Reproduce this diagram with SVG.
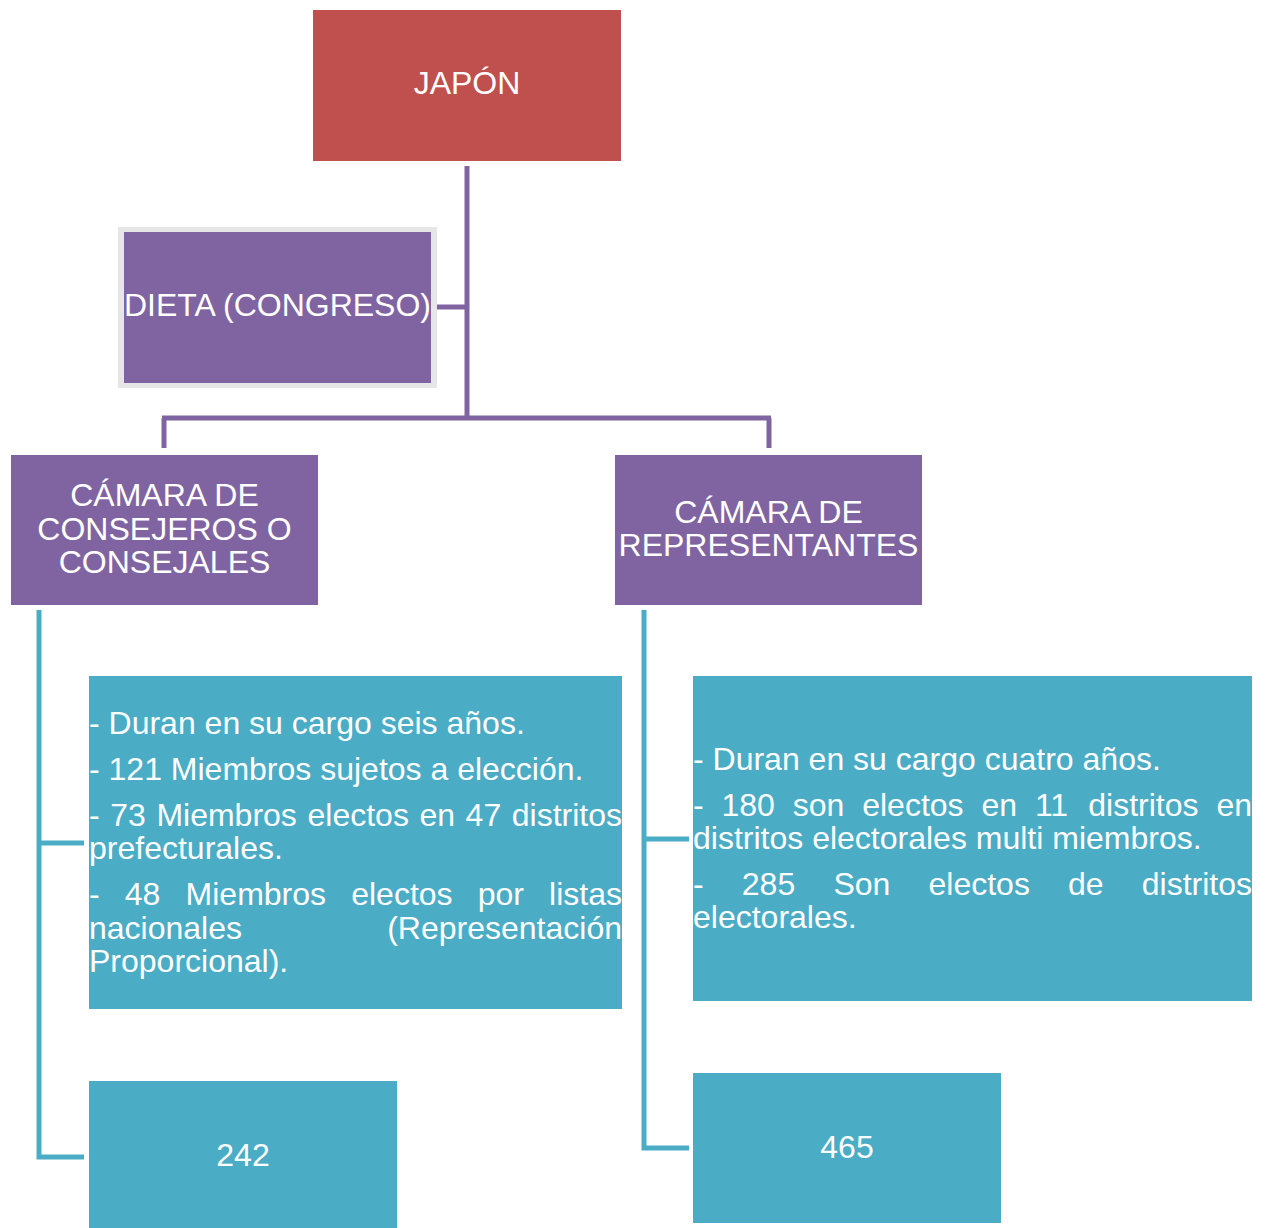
<svg xmlns="http://www.w3.org/2000/svg" width="1265" height="1228" viewBox="0 0 1265 1228">
<style>
text{font-family:"Liberation Sans",Arial,sans-serif;fill:#fff;font-size:32px}
.c{text-anchor:middle}
.e{text-anchor:end}
.red{fill:#C0504D}
.pur{fill:#8064A2}
.teal{fill:#4BACC6}
.pl{stroke:#8064A2;stroke-width:5;fill:none}
.tl{stroke:#4BACC6;stroke-width:5;fill:none}
</style>
<rect width="1265" height="1228" fill="#fff"/>
<g id="connectors">
<path class="pl" d="M467 166V420M162 418H771M164 418V448M769 418V448M437 307H467"/>
<path class="tl" d="M39 610V1157H84M39 843H84"/>
<path class="tl" d="M644 610V1148H689M644 839H689"/>
</g>
<g id="japon">
<rect class="red" x="313" y="10" width="308" height="151"/>
<text class="c" x="467" y="94">JAPÓN</text>
</g>
<g id="dieta">
<rect x="118" y="227" width="319" height="161" fill="#E6E6E6"/>
<rect class="pur" x="124" y="232" width="307" height="151"/>
<text class="c" x="277.5" y="316">DIETA (CONGRESO)</text>
</g>
<g id="consejeros">
<rect class="pur" x="11" y="455" width="307" height="150"/>
<text class="c" x="164.5" y="506">CÁMARA DE</text>
<text class="c" x="164.5" y="540">CONSEJEROS O</text>
<text class="c" x="164.5" y="573">CONSEJALES</text>
</g>
<g id="representantes">
<rect class="pur" x="615" y="455" width="307" height="150"/>
<text class="c" x="768.5" y="523">CÁMARA DE</text>
<text class="c" x="768.5" y="556">REPRESENTANTES</text>
</g>
<g id="consejeros-detalle">
<rect class="teal" x="89" y="676" width="533" height="333"/>
<text x="89" y="734">- Duran en su cargo seis años.</text>
<text x="89" y="780">- 121 Miembros sujetos a elección.</text>
<text y="826"><tspan x="89">-</tspan><tspan x="110.3">73</tspan><tspan x="156.4">Miembros</tspan><tspan x="307.5">electos</tspan><tspan x="419.4">en</tspan><tspan x="465.6">47</tspan><tspan x="622" text-anchor="end">distritos</tspan></text>
<text x="89" y="859">prefecturales.</text>
<text y="905"><tspan x="89">-</tspan><tspan x="124.8">48</tspan><tspan x="185.6">Miembros</tspan><tspan x="351.2">electos</tspan><tspan x="477.7">por</tspan><tspan x="622" text-anchor="end">listas</tspan></text>
<text y="939"><tspan x="89">nacionales</tspan><tspan x="622" text-anchor="end">(Representación</tspan></text>
<text x="89" y="972">Proporcional).</text>
</g>
<g id="representantes-detalle">
<rect class="teal" x="693" y="676" width="559" height="325"/>
<text x="693" y="770">- Duran en su cargo cuatro años.</text>
<text y="816"><tspan x="693">-</tspan><tspan x="721.5">180</tspan><tspan x="792.8">son</tspan><tspan x="862.2">electos</tspan><tspan x="981.4">en</tspan><tspan x="1034.9">11</tspan><tspan x="1088.3">distritos</tspan><tspan x="1252" text-anchor="end">en</tspan></text>
<text x="693" y="849">distritos electorales multi miembros.</text>
<text y="895"><tspan x="693">-</tspan><tspan x="741.8">285</tspan><tspan x="833.4">Son</tspan><tspan x="928.5">electos</tspan><tspan x="1068">de</tspan><tspan x="1252" text-anchor="end">distritos</tspan></text>
<text x="693" y="928">electorales.</text>
</g>
<g id="total-consejeros">
<rect class="teal" x="89" y="1081" width="308" height="150"/>
<text class="c" x="243" y="1166">242</text>
</g>
<g id="total-representantes">
<rect class="teal" x="693" y="1073" width="308" height="150"/>
<text class="c" x="847" y="1158">465</text>
</g>
</svg>
